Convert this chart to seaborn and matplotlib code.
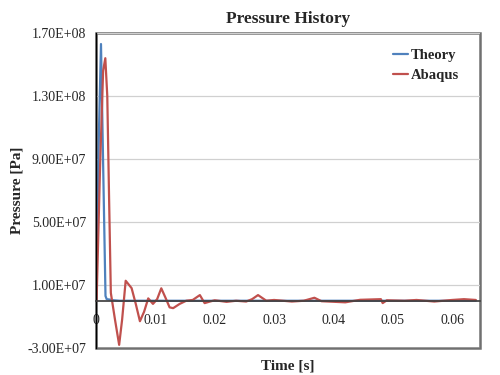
"""Pressure history: theory vs Abaqus, Excel-like styling."""

import matplotlib

matplotlib.use("Agg")
import matplotlib.pyplot as plt
import numpy as np
import seaborn as sns
from matplotlib.patches import Rectangle
from matplotlib.ticker import FuncFormatter, MultipleLocator

# time [s] and pressure [MPa]
t_theory = [0, 0.0002, 0.0005, 0.00084, 0.0011, 0.0014, 0.0016, 0.0018,
            0.0022, 0.003, 0.004, 0.064]
p_theory = [0, 40, 108, 163, 108, 45, 3, 1, 0.8, 0.3, 0, 0]

t_abaqus = [0, 0.0001, 0.0007, 0.0012, 0.00157, 0.0019, 0.0022, 0.0025,
            0.0032, 0.0039, 0.0044, 0.005, 0.006, 0.0067, 0.0074, 0.0081,
            0.0088, 0.0096, 0.0103, 0.0110, 0.0117, 0.0124, 0.0130, 0.0141,
            0.0152, 0.0163, 0.0175, 0.0183, 0.0192, 0.020, 0.022, 0.0236,
            0.0253, 0.0263, 0.0273, 0.0287, 0.030, 0.033, 0.035, 0.0368,
            0.038, 0.042, 0.0445, 0.048, 0.0483, 0.049, 0.052, 0.054,
            0.057, 0.060, 0.062, 0.064]
p_abaqus = [0, 0, 87, 146, 154, 130, 66, 5, -12, -28, -12, 12.7, 8, -2,
            -13, -7, 1.5, -2, 1, 7.9, 2, -4.2, -4.7, -2, 0, 0.5, 3.6, -1.5,
            -0.5, 0.3, -0.7, 0, -0.5, 1, 3.6, 0, 0.5, -0.5, 0, 1.9, -0.3,
            -1, 0.6, 1, -1.5, 0.3, 0, 0.5, -0.5, 0.5, 1, 0.5]

sns.set_theme(style="white")
plt.rcParams["font.family"] = ["Liberation Serif", "DejaVu Serif"]

fig = plt.figure(figsize=(5, 3.75), dpi=100)
ax = fig.add_axes([0.192, 0.072, 0.768, 0.84])

sns.lineplot(x=t_theory, y=np.array(p_theory) * 1e6, ax=ax,
             color="#4F81BD", linewidth=1.6, label="Theory")
sns.lineplot(x=t_abaqus, y=np.array(p_abaqus) * 1e6, ax=ax,
             color="#C0504D", linewidth=1.6, label="Abaqus")

ax.set_xlim(0, 0.0647)
ax.set_ylim(-3e7, 1.7e8)
ax.yaxis.set_major_formatter(FuncFormatter(lambda v, _: f"{v:.2E}"))
ax.xaxis.set_major_locator(MultipleLocator(0.01))
ax.xaxis.set_major_formatter(FuncFormatter(lambda v, _: "0" if v == 0 else f"{v:g}"))
ax.set_yticks([-3e7, 1e7, 5e7, 9e7, 1.3e8, 1.7e8])

ax.yaxis.grid(True, color="#d0d0d0", linewidth=0.9)
ax.set_axisbelow(True)

# x axis crosses at y = 0, frame drawn in gray
for side in ["top", "right"]:
    ax.spines[side].set_visible(False)
ax.spines["bottom"].set_position(("data", 0))
ax.spines["bottom"].set_color("#404040")
ax.spines["left"].set_color("black")
ax.spines["left"].set_linewidth(1.0)
ax.add_patch(Rectangle((0, 0), 1, 1, transform=ax.transAxes, fill=False,
                       edgecolor="#707070", linewidth=1.8, clip_on=False,
                       zorder=0.5))

ax.tick_params(axis="x", direction="inout", length=5, width=0.8,
               color="#404040", labelsize=10, pad=7)
ax.tick_params(axis="y", length=0, labelsize=10, pad=7)

ax.set_title("Pressure History", fontsize=12.5, fontweight="bold", pad=7)
ax.set_xlabel("Time [s]", fontsize=11, fontweight="bold")
ax.set_ylabel("Pressure [Pa]", fontsize=11, fontweight="bold")
ax.xaxis.set_label_coords(0.5, -0.035)
ax.yaxis.set_label_coords(-0.19, 0.5)

leg = ax.legend(loc="upper right", frameon=False, handlelength=1.0,
                handletextpad=0.2, labelspacing=0.45,
                bbox_to_anchor=(0.98, 0.99),
                prop={"weight": "bold", "size": 10.5})

fig.savefig("out.png", dpi=100)
